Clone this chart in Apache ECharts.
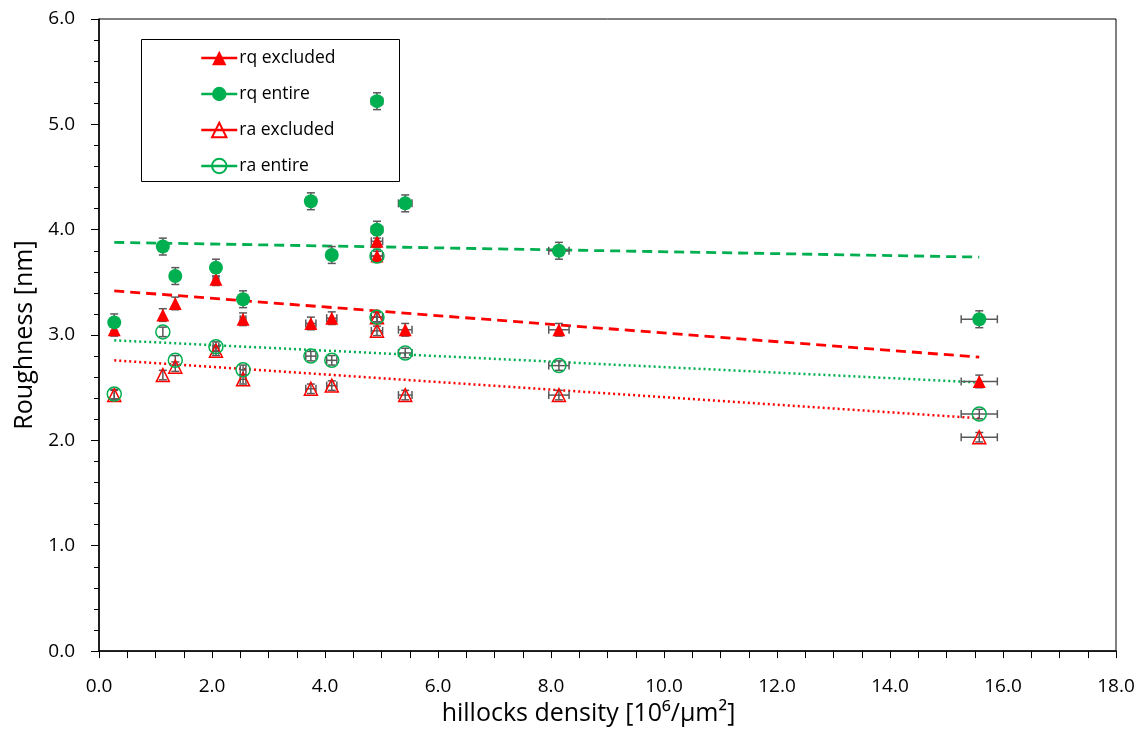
<!DOCTYPE html>
<html>
<head>
<meta charset="utf-8">
<script src="https://cdn.jsdelivr.net/npm/echarts@6/dist/echarts.min.js"></script>
<style>
  html, body { margin: 0; padding: 0; background: #fff; }
  #chart { width: 1142px; height: 731px; }
</style>
</head>
<body>
<div id="chart"></div>
<script>
// Hillock density of each sample [10^6/um^2] and its uncertainty
const densityX   = [0.27, 1.13, 1.35, 2.07, 2.55, 3.75, 4.12, 4.92, 4.92, 5.42, 8.14, 15.58];
const densityErr = [0.00, 0.00, 0.00, 0.05, 0.05, 0.09, 0.09, 0.10, 0.10, 0.12, 0.18, 0.32];

// Roughness values [nm]
const rqExcluded = [3.05, 3.19, 3.30, 3.53, 3.15, 3.11, 3.16, 3.75, 3.89, 3.05, 3.05, 2.56];
const rqEntire   = [3.12, 3.84, 3.56, 3.64, 3.34, 4.27, 3.76, 5.22, 4.00, 4.25, 3.80, 3.15];
const raExcluded = [2.43, 2.62, 2.70, 2.85, 2.58, 2.49, 2.52, 3.17, 3.04, 2.43, 2.43, 2.03];
const raEntire   = [2.44, 3.03, 2.76, 2.89, 2.67, 2.80, 2.76, 3.75, 3.17, 2.83, 2.71, 2.25];

// Roughness uncertainties [nm]
const rqExcludedErr = 0.06;
const rqEntireErr   = 0.08;
const raExcludedErr = 0.045;
const raEntireErr   = 0.045;

// Linear trend lines: values at the first and last density
const trendX            = [0.27, 15.58];
const rqExcludedTrend   = [3.42, 2.79];
const rqEntireTrend     = [3.88, 3.74];
const raExcludedTrend   = [2.76, 2.21];
const raEntireTrend     = [2.95, 2.55];

const GREEN = '#00B050';
const RED = '#FF0000';
const BAR = '#595959';
const FONT = 'Open Sans';

const pts = ys => densityX.map((x, i) => [x, ys[i]]);
const errPts = (ys, e) => densityX.map((x, i) => [x, ys[i], densityErr[i], e]);
const trendPts = ys => trendX.map((x, i) => [x, ys[i]]);

function renderErrorBar(params, api) {
  const x = api.value(0), y = api.value(1), dx = api.value(2), dy = api.value(3);
  const top = api.coord([x, y + dy]);
  const bot = api.coord([x, y - dy]);
  const cap = 4;
  const style = { stroke: BAR, lineWidth: 1.5 };
  const children = [
    { type: 'line', shape: { x1: top[0], y1: top[1], x2: bot[0], y2: bot[1] }, style },
    { type: 'line', shape: { x1: top[0] - cap, y1: top[1], x2: top[0] + cap, y2: top[1] }, style },
    { type: 'line', shape: { x1: bot[0] - cap, y1: bot[1], x2: bot[0] + cap, y2: bot[1] }, style }
  ];
  if (dx > 0) {
    const l = api.coord([x - dx, y]);
    const r = api.coord([x + dx, y]);
    children.push(
      { type: 'line', shape: { x1: l[0], y1: l[1], x2: r[0], y2: r[1] }, style },
      { type: 'line', shape: { x1: l[0], y1: l[1] - cap, x2: l[0], y2: l[1] + cap }, style },
      { type: 'line', shape: { x1: r[0], y1: r[1] - cap, x2: r[0], y2: r[1] + cap }, style }
    );
  }
  return { type: 'group', children };
}

function markerSeries(name, ys, symbol, color, filled) {
  return {
    name, type: 'line', data: pts(ys),
    symbol, symbolSize: symbol === 'triangle' ? 13 : 14,
    showSymbol: true,
    lineStyle: { width: 0, color },
    itemStyle: filled
      ? { color, borderWidth: 0 }
      : { color: 'rgba(255,255,255,0)', borderColor: color, borderWidth: 1.5 },
    emphasis: { disabled: true },
    z: 5
  };
}

function errorSeries(ys, e) {
  return {
    type: 'custom', data: errPts(ys, e), renderItem: renderErrorBar,
    silent: true, z: 4, encode: { x: 0, y: 1 }
  };
}

function trendSeries(ys, color, dash) {
  return {
    type: 'line', data: trendPts(ys), symbol: 'none', silent: true,
    lineStyle: { color, width: dash === 'dashed' ? 2.8 : 2.5, type: dash === 'dashed' ? [10, 6] : [2, 3] },
    z: 3
  };
}

const chart = echarts.init(document.getElementById('chart'), null, { renderer: 'canvas' });

chart.setOption({
  backgroundColor: '#fff',
  animation: false,
  grid: { left: 99, right: 26, top: 19, bottom: 76, show: true, borderColor: '#000', borderWidth: 1 },
  xAxis: {
    type: 'value', min: 0, max: 18, interval: 2,
    name: 'hillocks density [10⁶/μm²]', nameLocation: 'middle', nameGap: 49,
    nameTextStyle: { fontFamily: FONT, fontSize: 25, color: '#000', padding: [0, 38, 0, 0] },
    axisLine: { lineStyle: { color: '#000', width: 1.5 } },
    axisTick: { show: true, inside: false, length: 7, lineStyle: { color: '#000', width: 1 } },
    minorTick: { show: true, splitNumber: 4, length: 7, lineStyle: { color: '#000', width: 1 } },
    splitLine: { show: false },
    axisLabel: { fontFamily: FONT, fontSize: 19, color: '#000', margin: 26, formatter: v => v.toFixed(1) }
  },
  yAxis: {
    type: 'value', min: 0, max: 6, interval: 1,
    name: 'Roughness [nm]', nameLocation: 'middle', nameGap: 62,
    nameTextStyle: { fontFamily: FONT, fontSize: 25, color: '#000' },
    axisLine: { lineStyle: { color: '#000', width: 1.5 } },
    axisTick: { show: true, inside: false, length: 8, lineStyle: { color: '#000', width: 1 } },
    minorTick: { show: true, splitNumber: 5, length: 5, lineStyle: { color: '#000', width: 1 } },
    splitLine: { show: false },
    axisLabel: { fontFamily: FONT, fontSize: 19, color: '#000', margin: 24, formatter: v => v.toFixed(1) }
  },
  legend: {
    orient: 'vertical', left: 200, top: 49, padding: 0,
    data: ['rq excluded', 'rq entire', 'ra excluded', 'ra entire'],
    itemWidth: 36, itemHeight: 18, itemGap: 18,
    lineStyle: { width: 2.5, opacity: 1 },
    textStyle: { fontFamily: FONT, fontSize: 17.5, color: '#000', lineHeight: 18, padding: [0, 0, 0, -3] },
    selectedMode: false
  },
  graphic: [{
    type: 'rect', left: 141, top: 39, z: 1,
    shape: { width: 258, height: 142 },
    style: { fill: '#fff', stroke: '#000', lineWidth: 1 }
  }],
  series: [
    trendSeries(rqExcludedTrend, RED, 'dashed'),
    trendSeries(rqEntireTrend, GREEN, 'dashed'),
    trendSeries(raExcludedTrend, RED, 'dotted'),
    trendSeries(raEntireTrend, GREEN, 'dotted'),
    errorSeries(rqExcluded, rqExcludedErr),
    errorSeries(rqEntire, rqEntireErr),
    errorSeries(raExcluded, raExcludedErr),
    errorSeries(raEntire, raEntireErr),
    markerSeries('rq excluded', rqExcluded, 'triangle', RED, true),
    markerSeries('rq entire', rqEntire, 'circle', GREEN, true),
    markerSeries('ra excluded', raExcluded, 'triangle', RED, false),
    markerSeries('ra entire', raEntire, 'circle', GREEN, false)
  ]
});
</script>
</body>
</html>
